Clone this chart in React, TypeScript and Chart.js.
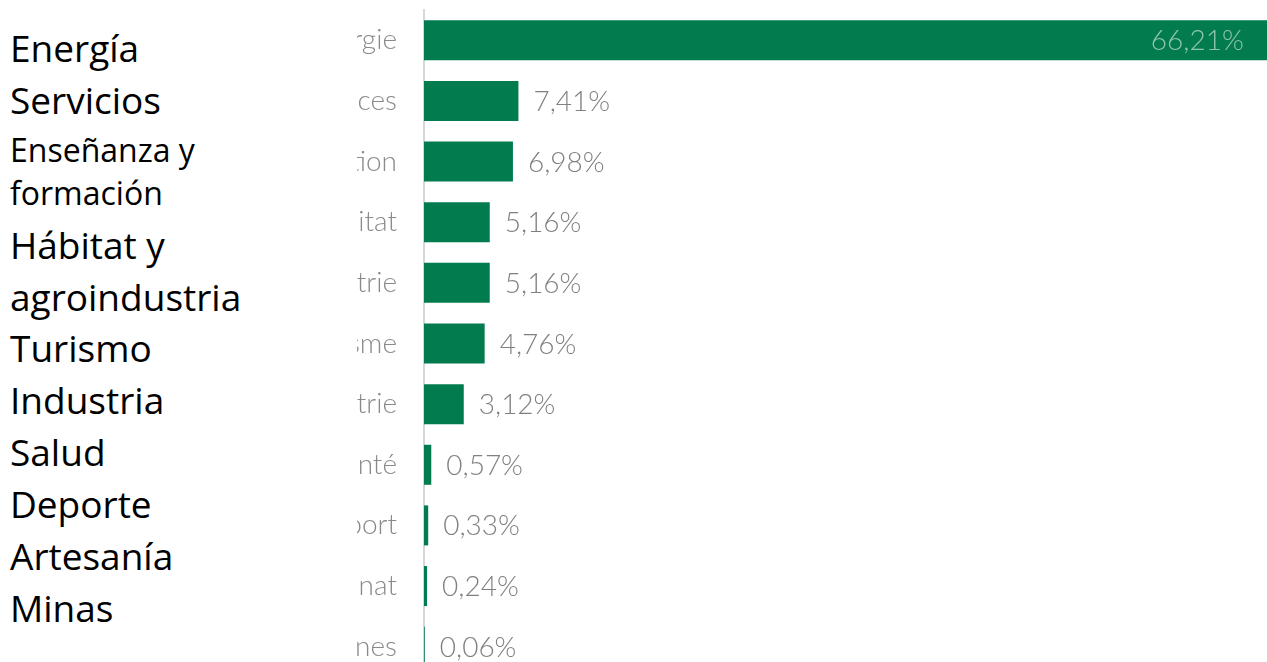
import React, { useEffect, useRef } from 'react';
import { Chart, registerables } from 'chart.js';

Chart.register(...registerables);

// ---- data ----
const categories = ['Énergie', 'Services', 'Formation', 'Habitat', 'Agro-industrie', 'Tourisme', 'Industrie', 'Santé', 'Sport', 'Artisanat', 'Mines'];
const shares = [66.21, 7.41, 6.98, 5.16, 5.16, 4.76, 3.12, 0.57, 0.33, 0.24, 0.06];
const spanishLines = ['Energía', 'Servicios', 'Enseñanza y', 'formación', 'Hábitat y', 'agroindustria', 'Turismo', 'Industria', 'Salud', 'Deporte', 'Artesanía', 'Minas'];

// ---- layout for the overlay text ----
const lineCenters = [48, 100, 150, 193, 245, 297, 348, 400, 452, 504, 556, 608];
const lineSizes = [37, 37, 32, 32, 37, 37, 37, 37, 37, 37, 37, 37];

const BAR_COLOR = '#027b4e';
const LABEL_FONT = 'Lato';

const fmt = (v: number) => v.toFixed(2).replace('.', ',') + '%';

const valueLabels = {
  id: 'valueLabels',
  afterDatasetsDraw(chart: any) {
    const ctx = chart.ctx as CanvasRenderingContext2D;
    const meta = chart.getDatasetMeta(0);
    ctx.save();
    ctx.font = `300 28px ${LABEL_FONT}`;
    ctx.textBaseline = 'middle';
    meta.data.forEach((bar: any, i: number) => {
      const v = shares[i];
      const text = fmt(v);
      if (v > 30) {
        ctx.fillStyle = 'rgba(255,255,255,0.55)';
        ctx.textAlign = 'right';
        ctx.fillText(text, bar.x - 24, bar.y + 1);
      } else {
        ctx.fillStyle = '#808080';
        ctx.textAlign = 'left';
        ctx.fillText(text, bar.x + 15, bar.y + 1);
      }
    });
    ctx.restore();
  },
};

export default function App() {
  const canvasRef = useRef<HTMLCanvasElement | null>(null);

  useEffect(() => {
    if (!canvasRef.current) return;
    const chart = new Chart(canvasRef.current, {
      type: 'bar',
      data: {
        labels: categories,
        datasets: [
          {
            data: shares,
            backgroundColor: BAR_COLOR,
            borderWidth: 0,
            barPercentage: 0.66,
            categoryPercentage: 1,
          },
        ],
      },
      options: {
        indexAxis: 'y',
        responsive: false,
        animation: false,
        layout: { padding: { top: 10, left: 0, right: 0, bottom: 0 } },
        plugins: {
          legend: { display: false },
          tooltip: { enabled: false },
        },
        scales: {
          x: { display: false, min: 0, max: 70 },
          y: {
            afterFit: (scale: any) => {
              scale.width = 424;
              scale.paddingTop = 0;
              scale.paddingBottom = 0;
            },
            grid: { display: false, drawTicks: false },
            border: { display: true, color: '#d6d6d6', width: 2 },
            ticks: {
              padding: 27,
              color: '#8a8a8a',
              font: { family: LABEL_FONT, weight: '300', size: 28 },
            },
          },
        },
      },
      plugins: [valueLabels],
    });
    return () => chart.destroy();
  }, []);

  return (
    <div
      style={{
        position: 'fixed',
        left: 0,
        top: 0,
        width: 1267,
        height: 662,
        overflow: 'hidden',
        background: '#ffffff',
      }}
    >
      <canvas ref={canvasRef} width={1316} height={677} style={{ position: 'absolute', left: 0, top: 0, width: 1316, height: 677 }} />
      <div
        style={{
          position: 'absolute',
          left: 0,
          top: 0,
          width: 357,
          height: 662,
          background: '#ffffff',
          fontFamily: '"Open Sans", sans-serif',
          color: '#000000',
        }}
      >
        {spanishLines.map((t, i) => (
          <div
            key={i}
            style={{
              position: 'absolute',
              left: 10,
              top: lineCenters[i] - 25,
              height: 50,
              lineHeight: '50px',
              fontSize: lineSizes[i],
              whiteSpace: 'nowrap',
            }}
          >
            {t}
          </div>
        ))}
      </div>
    </div>
  );
}
